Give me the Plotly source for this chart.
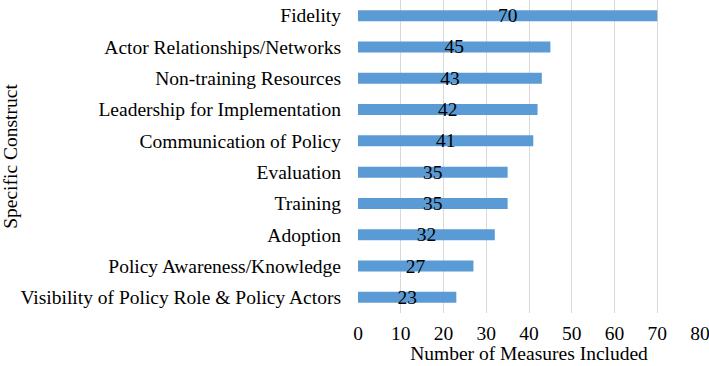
import plotly.graph_objects as go

categories = [
    "Fidelity",
    "Actor Relationships/Networks",
    "Non-training Resources",
    "Leadership for Implementation",
    "Communication of Policy",
    "Evaluation",
    "Training",
    "Adoption",
    "Policy Awareness/Knowledge",
    "Visibility of Policy Role & Policy Actors",
]
values = [70, 45, 43, 42, 41, 35, 35, 32, 27, 23]
x_ticks = [0, 10, 20, 30, 40, 50, 60, 70, 80]

FONT = "Liberation Serif, Times New Roman, serif"

fig = go.Figure()
fig.add_trace(go.Bar(
    x=values,
    y=categories,
    orientation="h",
    marker=dict(color="#5B9BD5", line=dict(width=0)),
    text=[str(v) for v in values],
    textposition="inside",
    insidetextanchor="middle",
    textangle=0,
    constraintext="none",
    textfont=dict(family=FONT, size=19.5, color="black"),
    cliponaxis=False,
))

fig.update_layout(
    width=709,
    height=366,
    margin=dict(l=358, r=9, t=0, b=53),
    paper_bgcolor="white",
    plot_bgcolor="white",
    bargap=0.65,
    showlegend=False,
    font=dict(family=FONT, size=19.5, color="black"),
)
fig.update_xaxes(
    range=[0, 80],
    tickvals=x_ticks,
    showgrid=True,
    gridcolor="#d9d9d9",
    gridwidth=1,
    zeroline=False,
    showline=False,
    automargin=False,
    ticklabeloverflow="allow",
    tickfont=dict(family=FONT, size=19.5),
    ticklabelstandoff=6,
    title=dict(text="Number of Measures Included", font=dict(family=FONT, size=19.5), standoff=2),
    ticks="",
)
fig.update_yaxes(
    categoryorder="array",
    categoryarray=categories[::-1],
    autorange=True,
    showgrid=False,
    zeroline=False,
    showline=False,
    automargin=False,
    ticks="",
    ticklabelstandoff=16,
    tickfont=dict(family=FONT, size=19.5),
    title=dict(text="Specific Construct", font=dict(family=FONT, size=19.5), standoff=0),
)

fig.write_html(
    "out.html",
    config={"displayModeBar": False},
    post_script="document.body.style.margin='0';document.body.style.overflow='hidden';",
)
